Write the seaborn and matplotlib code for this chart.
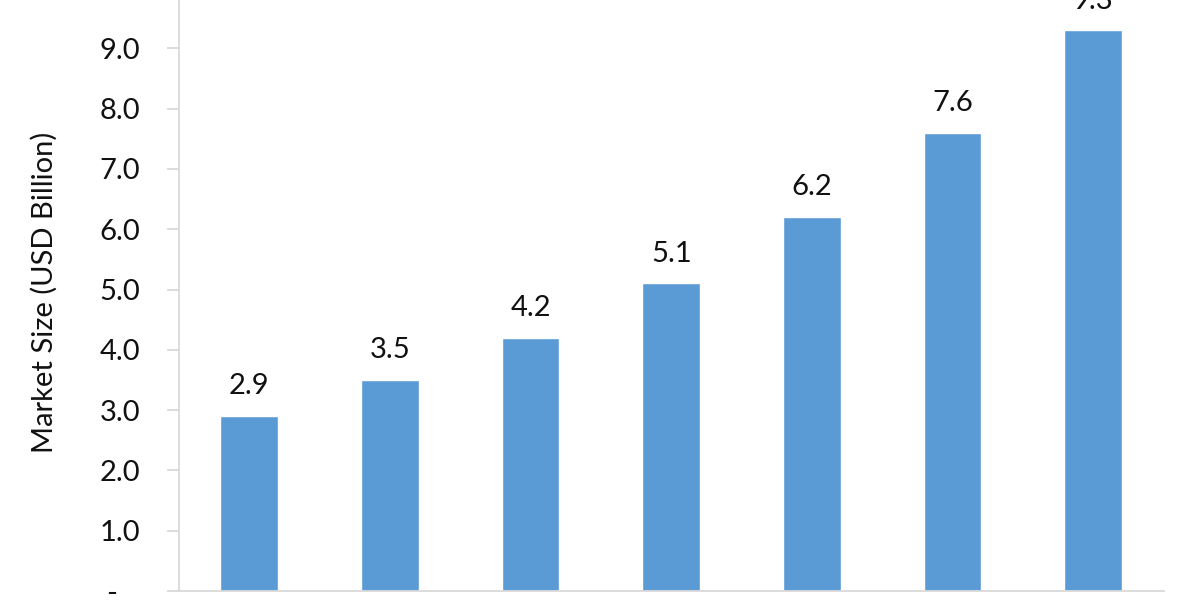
import matplotlib
matplotlib.use("Agg")
import matplotlib.pyplot as plt
import seaborn as sns
import pandas as pd

years = ["2017", "2018", "2019", "2020", "2021", "2022", "2023"]
market_size = [2.9, 3.5, 4.2, 5.1, 6.2, 7.6, 9.3]
y_ticks = [0, 1, 2, 3, 4, 5, 6, 7, 8, 9, 10]

sns.set_theme(style="white")
plt.rcParams["font.family"] = ["Lato", "DejaVu Sans"]

df = pd.DataFrame({"Year": years, "Market Size": market_size})

fig = plt.figure(figsize=(12, 6), dpi=100)
ax = fig.add_axes([179 / 1200, 9 / 600, 984.5 / 1200, 603 / 600])

sns.barplot(data=df, x="Year", y="Market Size", color="#5B9BD5", width=0.41,
            saturation=1, ax=ax)

ax.set_xlim(-0.5, 6.5)
ax.set_ylim(0, 10)
ax.set_yticks(y_ticks)
ax.set_yticklabels(["-   " if v == 0 else f"{v:.1f}" for v in y_ticks])

for c in ax.containers:
    ax.bar_label(c, labels=[f"{v:.1f}" for v in market_size], padding=12,
                 fontsize=21, color="#111111")

for s in ["top", "right"]:
    ax.spines[s].set_visible(False)
for s in ["left", "bottom"]:
    ax.spines[s].set_color("#D9D9D9")
    ax.spines[s].set_linewidth(1.3)

ax.tick_params(axis="y", left=True, length=9, width=1.3, color="#D9D9D9",
               pad=19, labelsize=21, labelcolor="#111111")
ax.tick_params(axis="x", bottom=False, labelbottom=False)

ax.set_xlabel("")
ax.set_ylabel("Market Size (USD Billion)", fontsize=21, color="#111111")
ax.yaxis.set_label_coords(-0.123, 0.496)

fig.savefig("out.png", dpi=100)
